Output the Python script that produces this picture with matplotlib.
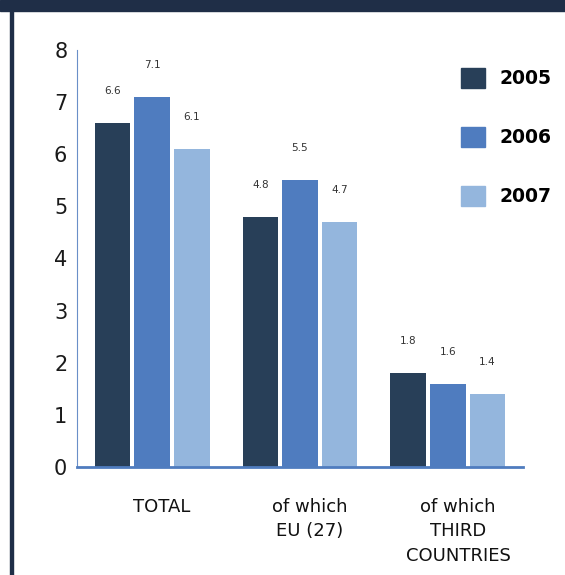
import matplotlib.pyplot as plt
import matplotlib.patches as mpatches
import numpy as np

# trade figures by partner group
categories = ["TOTAL", "of which\nEU (27)", "of which\nTHIRD\nCOUNTRIES"]
years = ["2005", "2006", "2007"]
values_2005 = [6.6, 4.8, 1.8]
values_2006 = [7.1, 5.5, 1.6]
values_2007 = [6.1, 4.7, 1.4]

colors = ["#283f58", "#4f7cbf", "#94b6dd"]
navy = "#1f2e47"

W, H = 565, 575
fig = plt.figure(figsize=(W / 100, H / 100), dpi=100)
fig.patch.set_facecolor("white")

# frame: top band and thin left rule
fig.add_artist(mpatches.Rectangle((0, 1 - 11 / H), 1, 11 / H, transform=fig.transFigure,
                                  color=navy, zorder=0))
fig.add_artist(mpatches.Rectangle((10 / W, 0), 3 / W, 1 - 11 / H, transform=fig.transFigure,
                                  color=navy, zorder=0))

ax = fig.add_axes([77 / W, 108 / H, 446 / W, 417 / H])

x = np.arange(len(categories))
width = 0.243
step = 0.267
series = [values_2005, values_2006, values_2007]
for i, (vals, c, yr) in enumerate(zip(series, colors, years)):
    pos = x + (i - 1) * step
    bars = ax.bar(pos, vals, width, color=c, label=yr, zorder=2)
    for b, v in zip(bars, vals):
        ax.annotate(f"{v:.1f}", (b.get_x() + b.get_width() / 2, v),
                    xytext=(0, 23), textcoords="offset points",
                    ha="center", va="center", fontsize=7.5, color="#333333")

ax.set_xlim(-0.507, 2.507)
ax.set_ylim(0, 8)
ax.set_yticks(range(0, 9))
ax.tick_params(axis="y", length=0, pad=7, labelsize=15, labelcolor="#1a1a1a")
ax.set_xticks([])

for s in ["top", "right"]:
    ax.spines[s].set_visible(False)
ax.spines["left"].set_color("#6a8fc8")
ax.spines["left"].set_linewidth(0.8)
ax.spines["bottom"].set_color("#4f7cbf")
ax.spines["bottom"].set_linewidth(2)

# category labels under the groups
trans = ax.get_xaxis_transform()
for xi, cat in zip(x, categories):
    ax.text(xi + 0.068, -31 / 417, cat, transform=trans, ha="center", va="top",
            fontsize=13, color="#111111", linespacing=1.45)

handles = [mpatches.Patch(color=c) for c in colors]
leg = fig.legend(handles, years, loc="upper left",
                 bbox_to_anchor=(461 / W, 1 - 68 / H), frameon=False,
                 borderpad=0, borderaxespad=0, handlelength=1.3, handleheight=1.3,
                 handletextpad=0.75, labelspacing=2.05,
                 prop={"size": 13.5, "weight": "bold"})

fig.savefig("out.png", dpi=100)
